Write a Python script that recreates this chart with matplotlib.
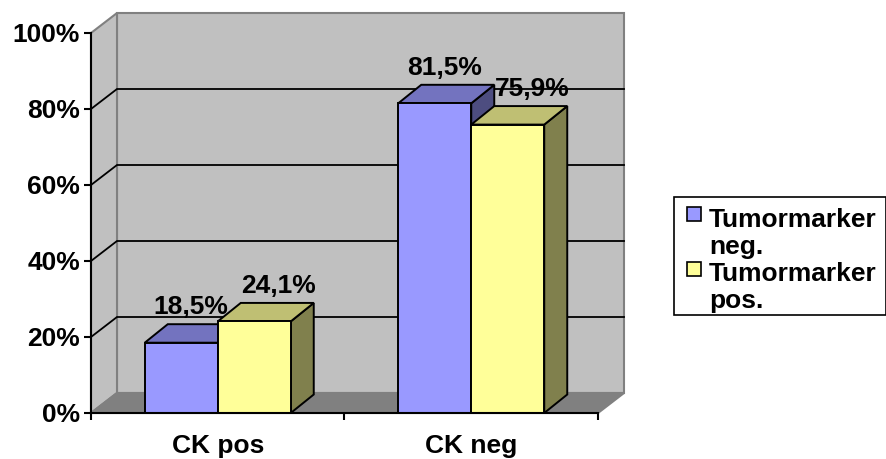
import matplotlib
matplotlib.use("Agg")
import matplotlib.pyplot as plt
from matplotlib.patches import Polygon, Rectangle

# Data
categories = ["CK pos", "CK neg"]
series_names = ["Tumormarker\nneg.", "Tumormarker\npos."]
tm_neg = [18.5, 81.5]
tm_pos = [24.1, 75.9]
value_labels_neg = ["18,5%", "81,5%"]
value_labels_pos = ["24,1%", "75,9%"]
y_ticks = [0, 20, 40, 60, 80, 100]
y_tick_labels = ["0%", "20%", "40%", "60%", "80%", "100%"]

# Styling
FONT = "Liberation Sans"
FS = 19
front_colors = ["#9999FF", "#FFFF99"]
top_colors = ["#7373BF", "#BFBF73"]
side_colors = ["#4D4D80", "#80804D"]
WALL = "#C0C0C0"
FLOOR = "#808080"
EDGE_GRAY = "#808080"

W, H, DPI = 887, 459, 100
fig = plt.figure(figsize=(W / DPI, H / DPI), dpi=DPI, facecolor="white")
ax = fig.add_axes([91 / W, 46 / H, 507 / W, 380 / H])
ax.set_xlim(0, 2)
ax.set_ylim(0, 100)
ax.patch.set_visible(False)

# pixel -> data scale factors
px_x = (507 / 2)       # px per category unit
px_y = 380 / 100       # px per percent
DX, DY = 26 / px_x, 20 / px_y      # wall depth
BX, BY = 23 / px_x, 18.5 / px_y    # bar depth
bar_w = 73 / px_x

def poly(pts, fc, ec, lw=1.0, z=1):
    p = Polygon(pts, closed=True, facecolor=fc, edgecolor=ec, linewidth=lw,
                zorder=z, clip_on=False, joinstyle="miter")
    ax.add_patch(p)

# walls and floor
poly([(DX, DY), (2 + DX, DY), (2 + DX, 100 + DY), (DX, 100 + DY)], WALL, EDGE_GRAY, 1.5)
poly([(0, 0), (DX, DY), (DX, 100 + DY), (0, 100)], WALL, EDGE_GRAY, 1.5)
poly([(0, 0), (2, 0), (2 + DX, DY), (DX, DY)], FLOOR, EDGE_GRAY, 1.5)

# gridlines across side wall and back wall
for v in y_ticks[1:-1]:
    ax.plot([0, DX, 2 + DX], [v, v + DY, v + DY], color="black", lw=1.3,
            zorder=1.5, clip_on=False, solid_joinstyle="miter")

# 3D bars
label_dx = [10, 24]
for i, cat in enumerate(categories):
    center = i + 0.5
    for s, (vals, labels) in enumerate([(tm_neg, value_labels_neg), (tm_pos, value_labels_pos)]):
        v = vals[i]
        x0 = center - bar_w + s * bar_w
        x1 = x0 + bar_w
        # right side
        poly([(x1, 0), (x1 + BX, BY), (x1 + BX, v + BY), (x1, v)],
             side_colors[s], "black", 1.4, 2)
        # top
        poly([(x0, v), (x1, v), (x1 + BX, v + BY), (x0 + BX, v + BY)],
             top_colors[s], "black", 1.4, 2)
        # front
        poly([(x0, 0), (x1, 0), (x1, v), (x0, v)],
             front_colors[s], "black", 1.4, 2)
        ax.annotate(labels[i], xy=((x0 + x1) / 2, v + BY), xytext=(label_dx[s], 10),
                    textcoords="offset pixels", ha="center", va="baseline",
                    fontsize=FS, fontweight="bold", fontfamily=FONT,
                    zorder=5, annotation_clip=False)

# axes
for side in ["top", "right"]:
    ax.spines[side].set_visible(False)
for side in ["left", "bottom"]:
    ax.spines[side].set_color("black")
    ax.spines[side].set_linewidth(1.5)
    ax.spines[side].set_zorder(3)

ax.set_yticks(y_ticks)
ax.set_yticklabels(y_tick_labels, fontsize=FS, fontweight="bold", fontfamily=FONT)
ax.set_xticks([0, 1, 2])
ax.set_xticklabels(["", "", ""])
ax.set_xticks([0.5, 1.5], minor=True)
ax.set_xticklabels(categories, minor=True, fontsize=FS, fontweight="bold", fontfamily=FONT)
ax.tick_params(axis="y", direction="out", length=5, width=1.5, pad=3)
ax.tick_params(axis="x", which="major", direction="out", length=5, width=1.5)
ax.tick_params(axis="x", which="minor", length=0, pad=15)

# legend box
def fx(px):
    return px / W

def fy(py):
    return 1 - py / H

fig.patches.append(Rectangle((fx(674), fy(315)), fx(886) - fx(674), fy(197) - fy(315),
                             transform=fig.transFigure, facecolor="white",
                             edgecolor="black", linewidth=1.2, zorder=1))
marker_tops = [207, 262]
text_baselines = [227, 281]
for s, name in enumerate(series_names):
    fig.patches.append(Rectangle((fx(687), fy(marker_tops[s] + 14)), fx(14), 14 / H,
                                 transform=fig.transFigure, facecolor=front_colors[s],
                                 edgecolor="black", linewidth=1.2, zorder=2))
    for k, line in enumerate(name.split("\n")):
        fig.text(fx(709), fy(text_baselines[s] + 27 * k), line, ha="left", va="baseline",
                 fontsize=FS, fontweight="bold", fontfamily=FONT, zorder=3)

fig.savefig("out.png", dpi=DPI, facecolor="white")
